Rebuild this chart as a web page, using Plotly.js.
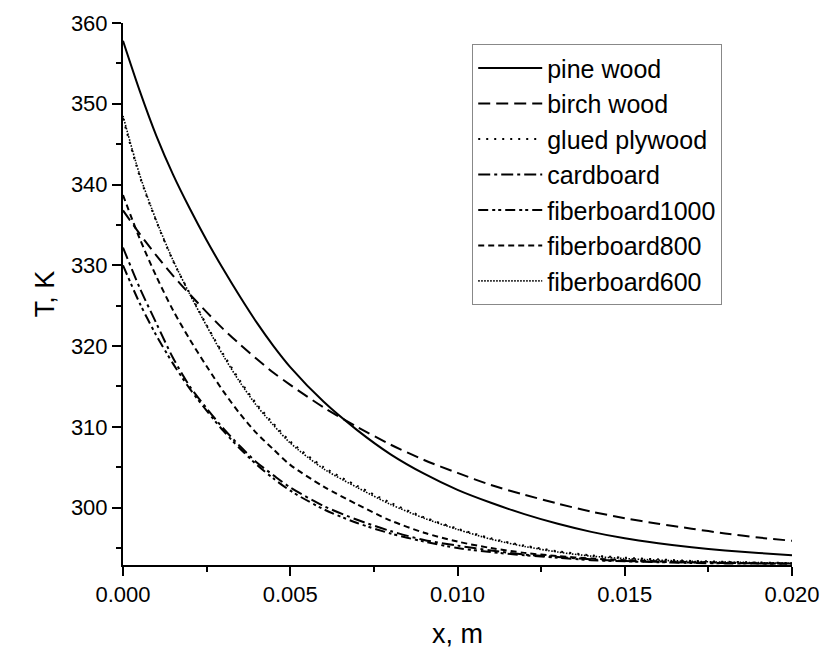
<!DOCTYPE html>
<html>
<head>
<meta charset="utf-8">
<script src="https://cdn.plot.ly/plotly-3.0.1.min.js"></script>
<style>
  html, body { margin: 0; padding: 0; background: #fff; }
  #chart { width: 823px; height: 650px; }
</style>
</head>
<body>
<div id="chart"></div>
<script>
// Position along the wall, m
const xPos = [0, 0.0005, 0.001, 0.0015, 0.002, 0.0025, 0.003, 0.0035, 0.004, 0.0045, 0.005,
              0.006, 0.007, 0.008, 0.009, 0.010, 0.011, 0.012, 0.013, 0.014, 0.015,
              0.016, 0.017, 0.018, 0.019, 0.020];

// Temperature, K
const pineWood = [357.8, 351.6, 346.0, 341.2, 337.0, 333.1, 329.5, 326.1, 322.9, 320.0, 317.4,
                  313.1, 309.6, 306.6, 304.2, 302.2, 300.6, 299.2, 298.0, 297.0, 296.2,
                  295.6, 295.1, 294.7, 294.4, 294.1];
const birchWood = [336.8, 333.9, 331.2, 328.7, 326.4, 324.2, 322.1, 320.2, 318.4, 316.7, 315.2,
                   312.4, 310.0, 307.8, 305.9, 304.3, 302.8, 301.6, 300.5, 299.5, 298.7,
                   298.0, 297.4, 296.8, 296.3, 295.9];
const gluedPlywood = [348.2, 341.0, 335.4, 330.5, 326.5, 322.6, 319.0, 315.7, 312.8, 310.4, 308.2,
                      305.0, 302.7, 300.6, 298.8, 297.4, 296.2, 295.3, 294.6, 294.1, 293.8,
                      293.6, 293.4, 293.3, 293.2, 293.15];
const cardboard = [332.2, 327.2, 322.8, 318.5, 315.0, 312.3, 309.8, 307.6, 305.6, 304.0, 302.5,
                   300.2, 298.5, 297.1, 296.0, 295.3, 294.7, 294.2, 293.9, 293.6, 293.4,
                   293.3, 293.2, 293.15, 293.1, 293.1];
const fiberboard1000 = [330.0, 325.3, 321.3, 317.8, 314.7, 312.0, 309.5, 307.3, 305.3, 303.6, 302.1,
                        299.8, 298.1, 296.8, 295.8, 295.0, 294.5, 294.1, 293.8, 293.5, 293.35,
                        293.25, 293.15, 293.1, 293.1, 293.05];
const fiberboard800 = [338.7, 333.3, 328.6, 324.4, 320.8, 317.5, 314.4, 311.6, 309.2, 307.2, 305.3,
                       302.6, 300.4, 298.4, 296.9, 295.8, 295.0, 294.4, 294.0, 293.7, 293.5,
                       293.35, 293.25, 293.2, 293.1, 293.1];
const fiberboard600 = [348.5, 341.2, 335.5, 330.6, 326.4, 322.5, 318.8, 315.5, 312.6, 310.2, 308.0,
                       304.8, 302.5, 300.4, 298.7, 297.3, 296.1, 295.2, 294.5, 294.0, 293.7,
                       293.5, 293.35, 293.25, 293.2, 293.1];

const seriesNames = ["pine wood", "birch wood", "glued plywood", "cardboard",
                     "fiberboard1000", "fiberboard800", "fiberboard600"];
const seriesValues = [pineWood, birchWood, gluedPlywood, cardboard,
                      fiberboard1000, fiberboard800, fiberboard600];
const seriesDash = ["solid", "12px,6px", "2px,6px", "12px,4px,3px,4px",
                    "10px,4px,3px,3px,3px,4px", "6px,4px", "1.5px,1.5px"];
const seriesWidth = [2, 2, 2, 2, 2, 2, 1.6];

const xTickVals = [0, 0.005, 0.010, 0.015, 0.020];
const xTickText = ["0.000", "0.005", "0.010", "0.015", "0.020"];
const yTickVals = [300, 310, 320, 330, 340, 350, 360];

const FONT = "Liberation Sans, Arial, sans-serif";

const traces = seriesNames.map((name, i) => ({
  type: "scatter",
  mode: "lines",
  name: name,
  x: xPos,
  y: seriesValues[i],
  line: { color: "#000", width: seriesWidth[i], dash: seriesDash[i], shape: "spline", smoothing: 0.8 }
}));

const layout = {
  width: 823,
  height: 650,
  margin: { l: 123, r: 31, t: 23, b: 85, pad: 0 },
  paper_bgcolor: "#fff",
  plot_bgcolor: "#fff",
  font: { family: FONT, color: "#000", size: 22 },
  showlegend: true,
  legend: {
    x: 0.522, y: 0.961, xanchor: "left", yanchor: "top",
    bgcolor: "#fff",
    bordercolor: "#888",
    borderwidth: 1,
    font: { family: FONT, size: 25, color: "#000" },
    itemwidth: 64,
    tracegroupgap: 0
  },
  xaxis: {
    range: [0, 0.02],
    tickvals: xTickVals,
    ticktext: xTickText,
    ticks: "outside",
    ticklen: 9,
    tickwidth: 2,
    tickcolor: "#000",
    showline: true,
    linecolor: "#000",
    linewidth: 2,
    mirror: false,
    showgrid: false,
    zeroline: false,
    tickfont: { family: FONT, size: 22, color: "#000" },
    minor: { dtick: 0.0025, ticks: "outside", ticklen: 5, tickwidth: 2, tickcolor: "#000", showgrid: false },
    title: { text: "x, m", font: { family: FONT, size: 27, color: "#000" }, standoff: 18 }
  },
  yaxis: {
    range: [292.9, 360],
    tickvals: yTickVals,
    ticks: "outside",
    ticklen: 9,
    tickwidth: 2,
    tickcolor: "#000",
    showline: true,
    linecolor: "#000",
    linewidth: 2,
    mirror: false,
    showgrid: false,
    zeroline: false,
    tickfont: { family: FONT, size: 22, color: "#000" },
    minor: { dtick: 5, ticks: "outside", ticklen: 5, tickwidth: 2, tickcolor: "#000", showgrid: false },
    title: { text: "T, K", font: { family: FONT, size: 27, color: "#000" }, standoff: 8 }
  }
};

Plotly.newPlot("chart", traces, layout, { staticPlot: true, displayModeBar: false });
</script>
</body>
</html>
